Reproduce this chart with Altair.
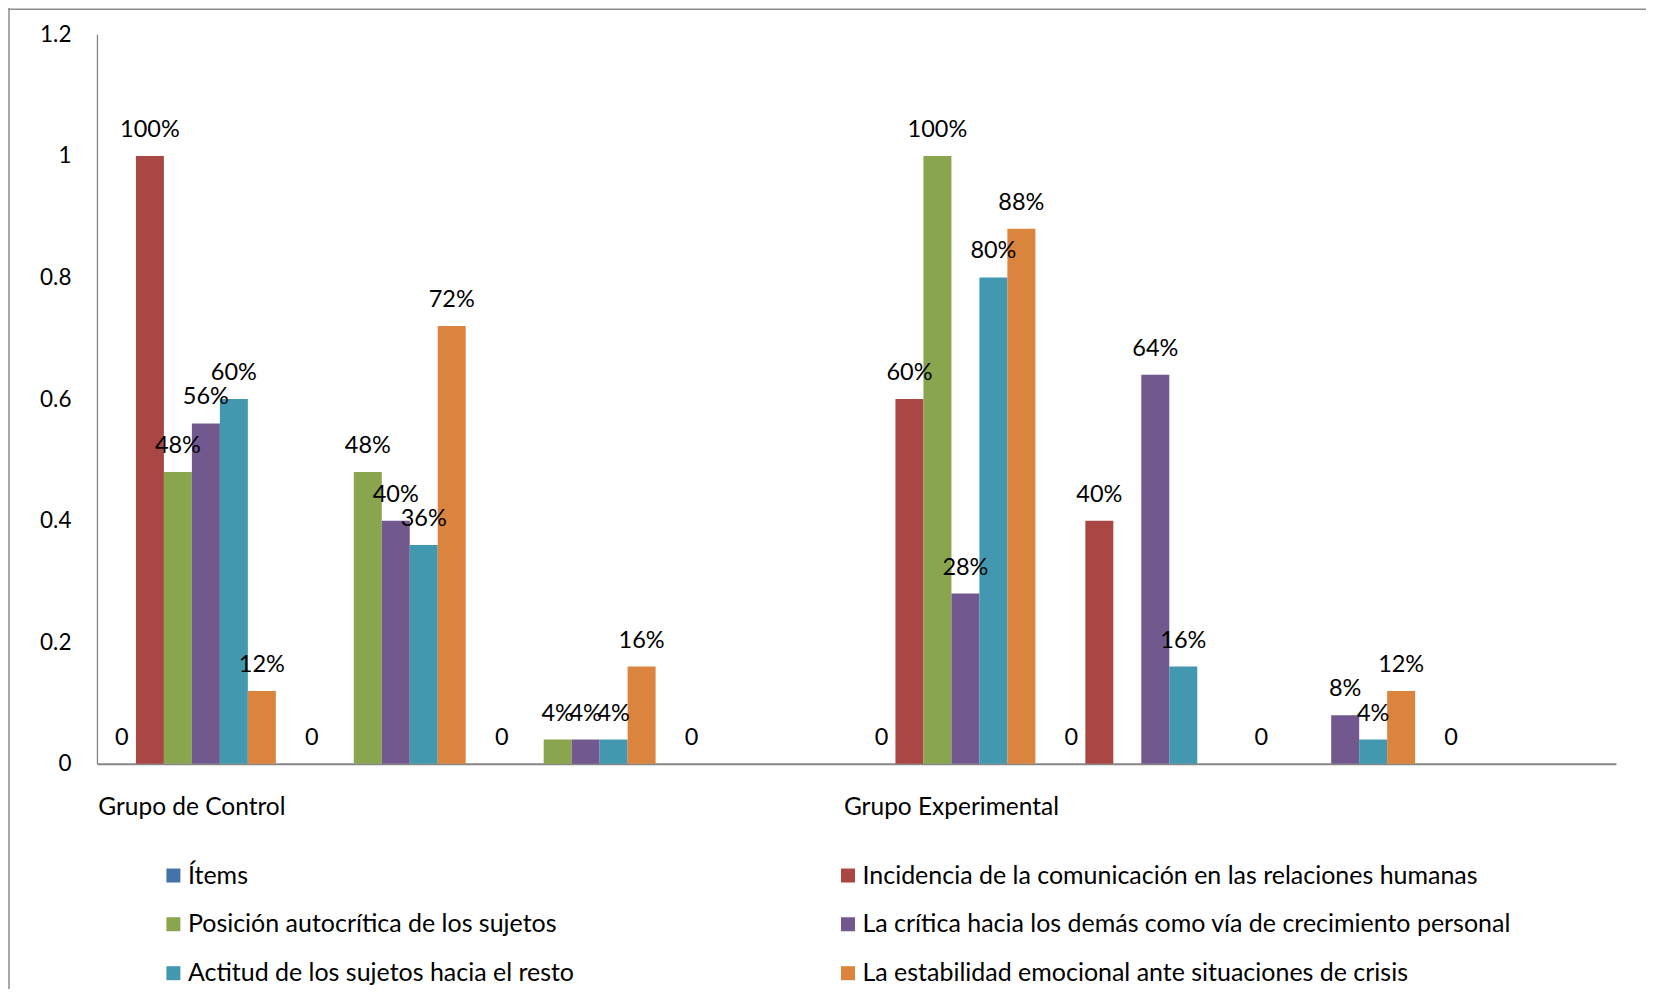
import altair as alt
import pandas as pd

# ---- data ----
categories = ["c1", "c2", "c3", "c4", "c5", "c6", "c7", "c8"]
category_labels = ["Grupo de Control", "", "", "", "Grupo Experimental", "", "", ""]

series_names = [
    "Ítems",
    "Incidencia de la comunicación en las relaciones humanas",
    "Posición autocrítica de los sujetos",
    "La crítica hacia los demás como vía de crecimiento personal",
    "Actitud de los sujetos hacia el resto",
    "La estabilidad emocional ante situaciones de crisis",
]
series_colors = ["#4572A7", "#AA4643", "#89A54E", "#71588F", "#4198AF", "#DB843D"]

items = [0, 0, 0, 0, 0, 0, 0, 0]
incidencia = [1.00, None, None, None, 0.60, 0.40, None, None]
posicion = [0.48, 0.48, 0.04, None, 1.00, None, None, None]
critica = [0.56, 0.40, 0.04, None, 0.28, 0.64, 0.08, None]
actitud = [0.60, 0.36, 0.04, None, 0.80, 0.16, 0.04, None]
estabilidad = [0.12, 0.72, 0.16, None, 0.88, None, 0.12, None]

y_ticks = [0, 0.2, 0.4, 0.6, 0.8, 1.0, 1.2]

# legend shows two columns, filled column by column
legend_order = [series_names[i] for i in (0, 2, 4, 1, 3, 5)]
legend_colors = [series_colors[i] for i in (0, 2, 4, 1, 3, 5)]

# ---- long table ----
all_series = [items, incidencia, posicion, critica, actitud, estabilidad]
rows = []
for s_name, values in zip(series_names, all_series):
    for cat, v in zip(categories, values):
        if v is None:
            continue
        label = "0" if s_name == "Ítems" else f"{round(v * 100)}%"
        rows.append({"cat": cat, "serie": s_name, "valor": v, "etiqueta": label})
df = pd.DataFrame(rows)

label_expr = " : ".join(
    f"datum.value == '{c}' ? '{l}'" for c, l in zip(categories, category_labels)
) + " : ''"

FONT = "Lato"

x_enc = alt.X(
    "cat:N",
    sort=categories,
    scale=alt.Scale(domain=categories, paddingInner=0, paddingOuter=0),
    axis=alt.Axis(
        title=None,
        labelAngle=0,
        labelExpr=label_expr,
        ticks=False,
        labelPadding=32,
        labelFontSize=24.5,
        labelLimit=600,
        labelColor="#000000",
        domainColor="#868686",
        domainWidth=2,
        grid=False,
    ),
)
xoff_enc = alt.XOffset(
    "serie:N",
    sort=series_names,
    scale=alt.Scale(domain=series_names, paddingInner=0, paddingOuter=0.393),
)
y_enc = alt.Y(
    "valor:Q",
    scale=alt.Scale(domain=[0, 1.2], nice=False),
    axis=alt.Axis(
        title=None,
        values=y_ticks,
        format="~g",
        ticks=False,
        grid=False,
        labelPadding=26,
        labelFontSize=22.5,
        labelColor="#000000",
        domainColor="#868686",
        domainWidth=1.3,
    ),
)

bars = alt.Chart(df).mark_bar(stroke=None).encode(
    x=x_enc,
    xOffset=xoff_enc,
    y=y_enc,
    color=alt.Color(
        "serie:N",
        scale=alt.Scale(domain=legend_order, range=legend_colors),
        legend=alt.Legend(
            title=None,
            orient="none",
            legendX=64,
            legendY=829,
            columns=2,
            columnPadding=261,
            rowPadding=23,
            symbolType="square",
            symbolSize=196,
            symbolStrokeWidth=0,
            labelFontSize=25,
            labelOffset=2,
            labelLimit=900,
            labelColor="#000000",
        ),
    ),
)

labels = alt.Chart(df).mark_text(
    baseline="alphabetic", align="center", dy=-19, fontSize=23.5, color="#000000", font=FONT
).encode(
    x=alt.X("cat:N", sort=categories),
    xOffset=alt.XOffset("serie:N", sort=series_names),
    y=alt.Y("valor:Q"),
    text="etiqueta:N",
)

border_data = alt.Data(values=[{"k": 1}])
left_border = alt.Chart(border_data).mark_rule(color="#8c8c8c", strokeWidth=1.5).encode(
    x=alt.value(-88), y=alt.value(-26), y2=alt.value(1000)
)
top_border = alt.Chart(border_data).mark_rule(color="#8c8c8c", strokeWidth=1.5).encode(
    x=alt.value(-89), x2=alt.value(1600), y=alt.value(-25)
)

chart = alt.layer(bars, labels, left_border, top_border).properties(
    width=1520,
    height=730,
    padding={"left": 89, "top": 26, "right": 30, "bottom": 225},
    autosize=alt.AutoSizeParams(type="none"),
).configure(font=FONT).configure_view(stroke=None)

chart.save("out.html", embed_options={"renderer": "svg", "actions": False})
